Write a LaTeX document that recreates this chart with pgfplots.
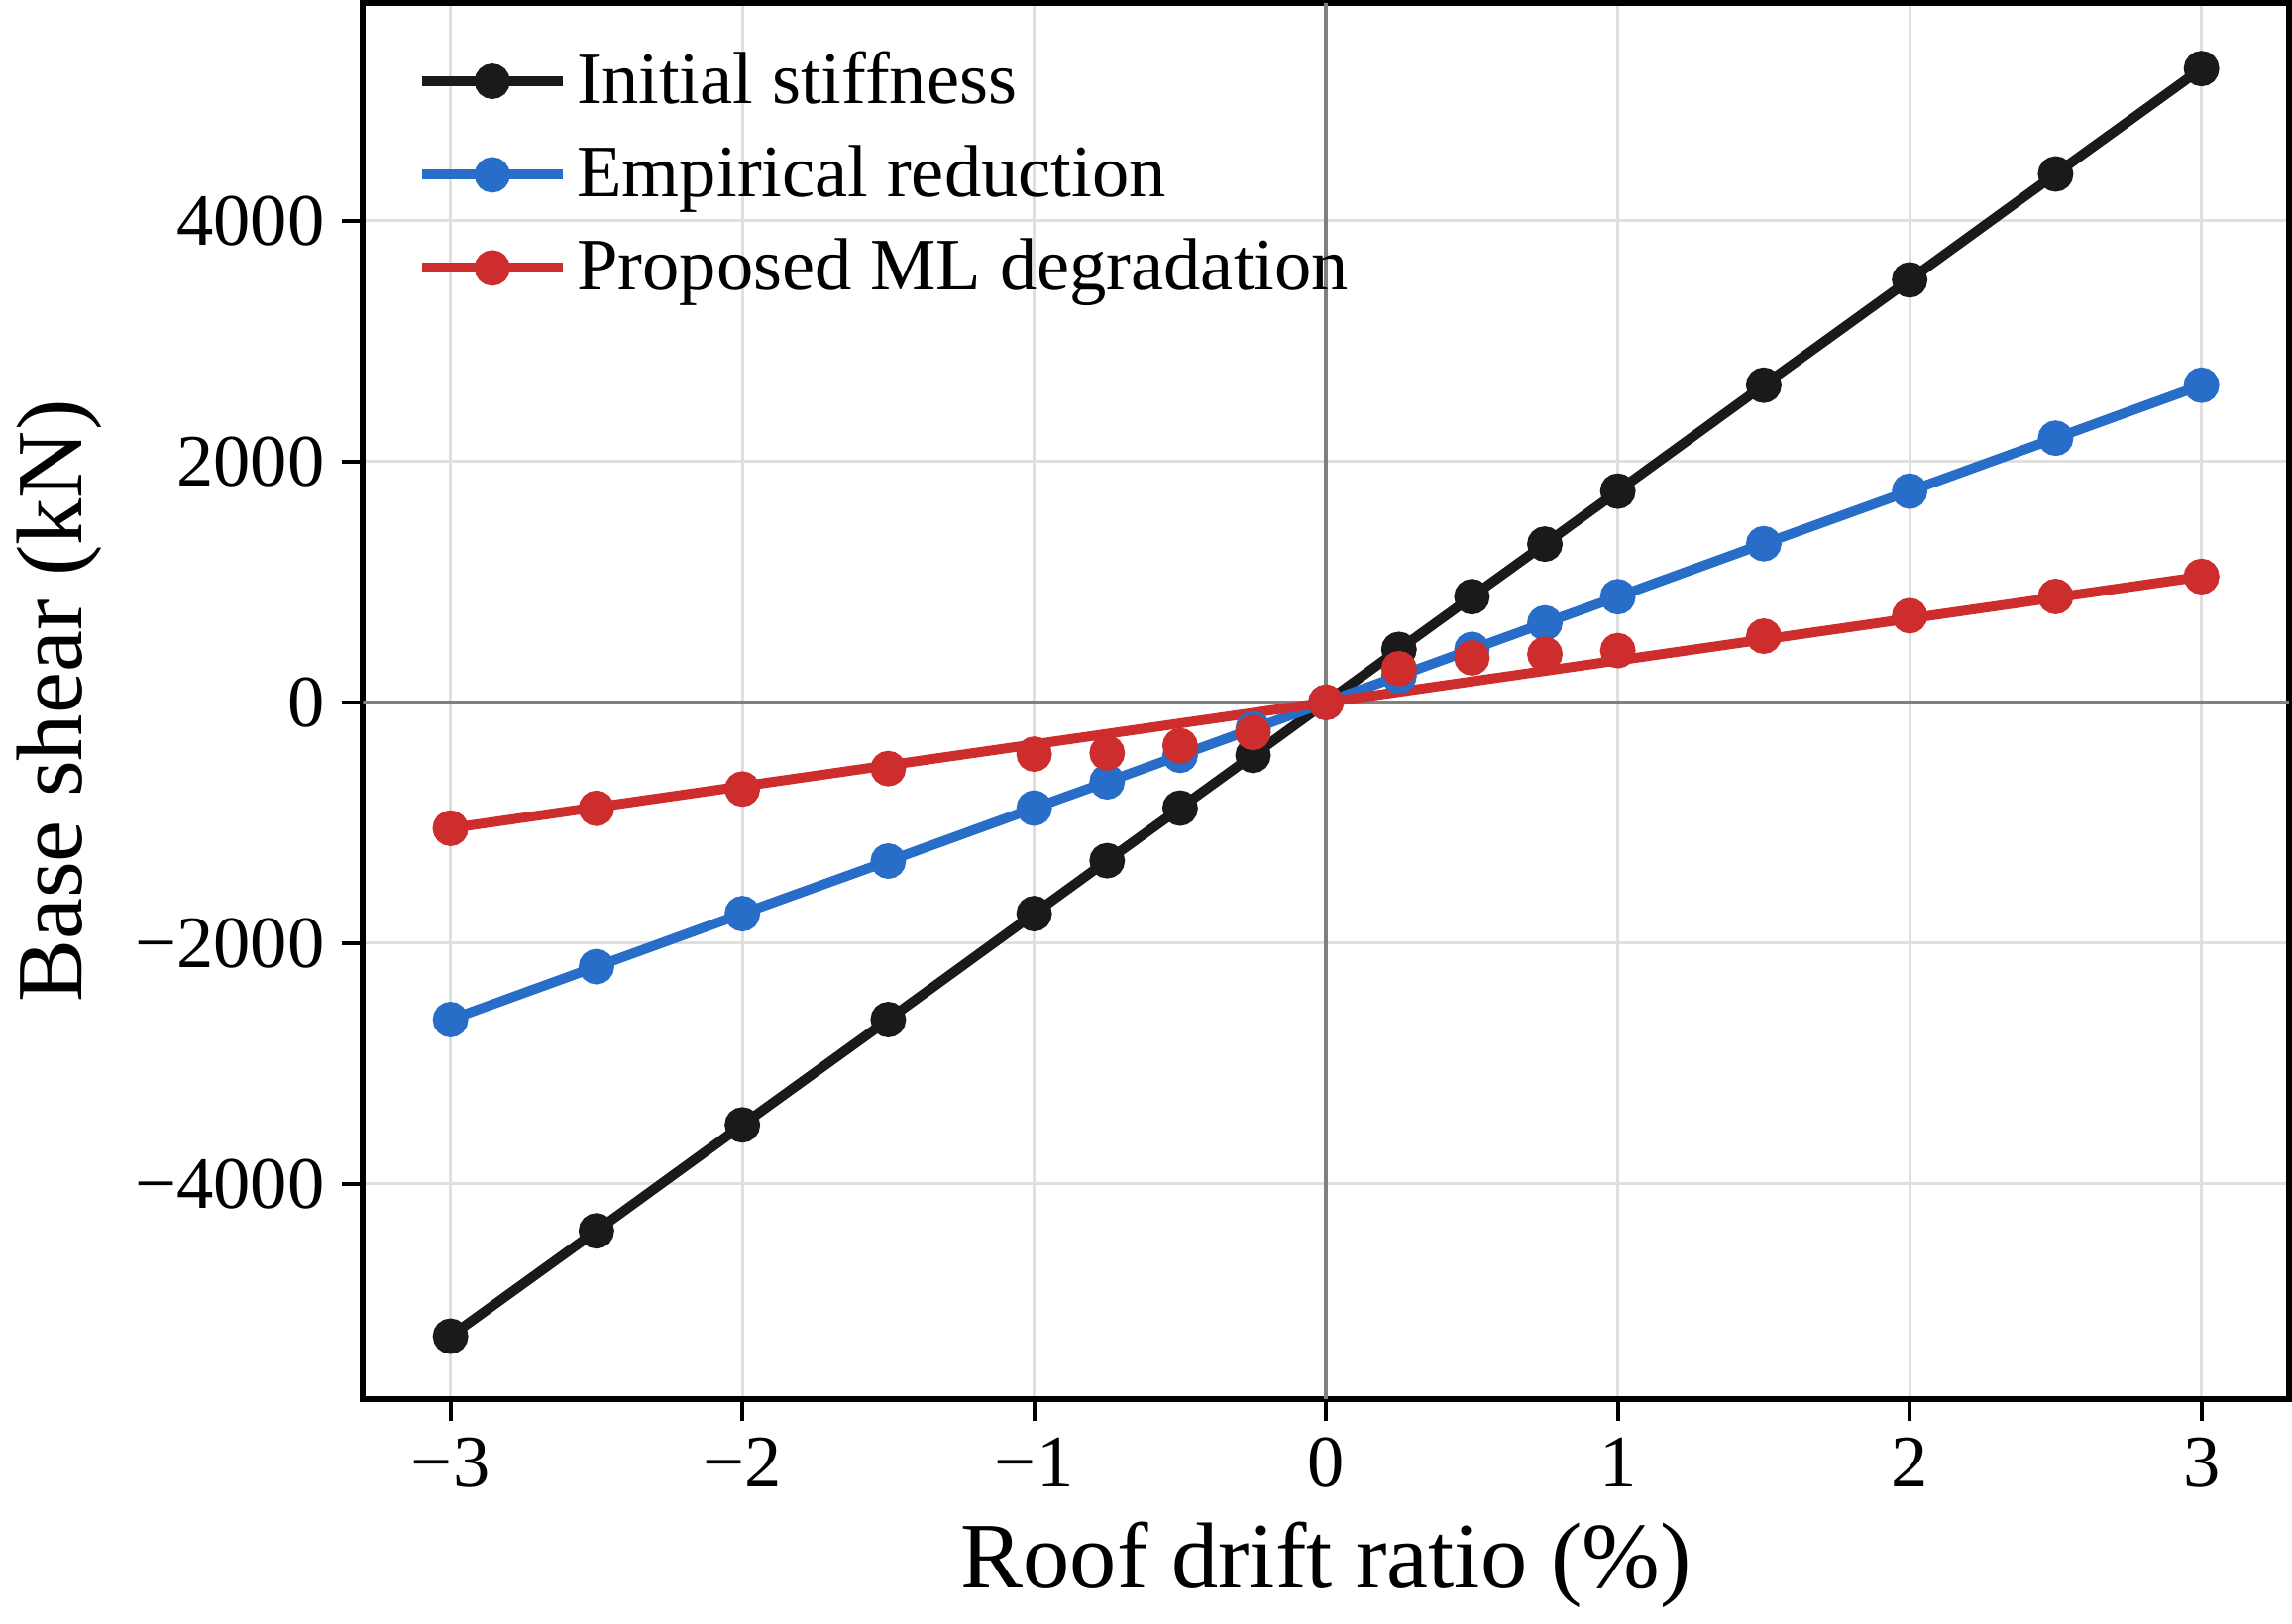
\documentclass[border=0pt]{standalone}
\usepackage{pgfplots}
\pgfplotsset{compat=1.18}
\usepackage{fontspec}
\setmainfont{Liberation Serif}
\definecolor{cblk}{RGB}{26,26,26}
\definecolor{cblu}{RGB}{40,110,200}
\definecolor{cred}{RGB}{205,45,45}
\begin{document}
\begin{tikzpicture}
\begin{axis}[
 scale only axis, width=391pt, height=283.5pt,
 xmin=-3.3, xmax=3.3, ymin=-5790, ymax=5810,
 xtick={-3,-2,-1,0,1,2,3}, ytick={-4000,-2000,0,2000,4000},
 xticklabels={−3,−2,−1,0,1,2,3}, yticklabels={−4000,−2000,0,2000,4000},
 ticklabel style={font=\fontsize{15}{17}\selectfont},
 xlabel={Roof drift ratio (\%)}, ylabel={Base shear (kN)},
 label style={font=\fontsize{19}{22}\selectfont},
 grid=major, grid style={gray!25, line width=0.6pt},
 axis line style={line width=1.2pt},
 tick style={line width=0.8pt, black}, tick align=outside,
 xtick pos=bottom, ytick pos=left,
 legend style={draw=none, fill=none, font=\fontsize{15}{17}\selectfont, row sep=3pt, at={(0.02,0.98)}, anchor=north west},
 legend cell align=left,
 legend image code/.code={\draw[#1, line width=2pt] (0cm,0cm) -- (1.0cm,0cm); \draw[#1, mark=*, mark size=2.6pt] plot coordinates {(0.5cm,0cm)};},
 every axis plot/.append style={line width=2pt, mark size=2.6pt},
]
\draw[gray, line width=0.7pt] (axis cs:-3.3,0) -- (axis cs:3.3,0);
\draw[gray, line width=0.7pt] (axis cs:0,-5790) -- (axis cs:0,5810);
\addplot[cblk, mark=*, mark options={fill=cblk}] coordinates {(-3,-5265) (-2.5,-4390) (-2,-3510) (-1.5,-2635) (-1,-1755) (-0.75,-1315) (-0.5,-878) (-0.25,-440) (0,0) (0.25,440) (0.5,878) (0.75,1315) (1,1755) (1.5,2635) (2,3510) (2.5,4390) (3,5265)};
\addlegendentry{Initial stiffness}
\addplot[cblu, mark=*, mark options={fill=cblu}] coordinates {(-3,-2635) (-2.5,-2195) (-2,-1755) (-1.5,-1318) (-1,-878) (-0.75,-660) (-0.5,-440) (-0.25,-220) (0,0) (0.25,220) (0.5,440) (0.75,660) (1,878) (1.5,1318) (2,1755) (2.5,2195) (3,2635)};
\addlegendentry{Empirical reduction}
\addplot[cred, mark=*, mark options={fill=cred}] coordinates {(-3,-1045) (3,1045)};
\addlegendentry{Proposed ML degradation}
\addplot[cred, only marks, mark=*, mark options={fill=cred}, forget plot] coordinates {(-3,-1045) (-2.5,-880) (-2,-720) (-1.5,-550) (-1,-430) (-0.75,-420) (-0.5,-360) (-0.25,-250) (0,0) (0.25,280) (0.5,370) (0.75,400) (1,430) (1.5,550) (2,720) (2.5,880) (3,1045)};
\end{axis}
\end{tikzpicture}
\end{document}
